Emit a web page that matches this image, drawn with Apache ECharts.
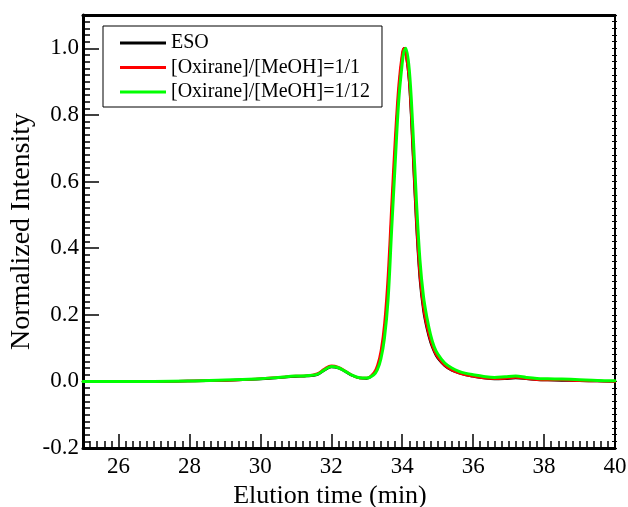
<!DOCTYPE html>
<html>
<head>
<meta charset="utf-8">
<script src="https://cdn.jsdelivr.net/npm/echarts@6/dist/echarts.min.js"></script>
<style>
html,body{margin:0;padding:0;background:#fff;}
#chart{width:628px;height:507px;}
</style>
</head>
<body>
<div id="chart"></div>
<script>
// ---- data ----
const seriesNames = ['ESO', '[Oxirane]/[MeOH]=1/1', '[Oxirane]/[MeOH]=1/12'];
const elutionTime = [25, 26, 27, 28, 29, 29.5, 30, 30.5, 31, 31.3, 31.6, 31.8, 32.0, 32.2, 32.4, 32.6, 32.8,
  33.0, 33.2, 33.3, 33.4, 33.5, 33.6, 33.7, 33.8, 33.9, 34.0, 34.05, 34.1, 34.2, 34.3, 34.4, 34.5, 34.6,
  34.7, 34.8, 34.9, 35.0, 35.2, 35.4, 35.6, 35.8, 36.0, 36.3, 36.6, 36.9, 37.2, 37.5, 37.8, 38.1, 38.5, 39, 39.5, 40];
const esoValues = [0.000, 0.000, 0.000, 0.001, 0.003, 0.005, 0.007, 0.011, 0.015, 0.016, 0.020, 0.033, 0.043, 0.040, 0.029, 0.017, 0.010,
  0.009, 0.022, 0.040, 0.080, 0.150, 0.280, 0.490, 0.690, 0.865, 0.975, 1.000, 0.990, 0.895, 0.690, 0.470, 0.305, 0.212,
  0.157, 0.117, 0.090, 0.070, 0.047, 0.033, 0.025, 0.019, 0.015, 0.010, 0.007, 0.008, 0.010, 0.008, 0.005, 0.004, 0.003, 0.002, 0.001, 0.000];
const ratio1Values = [0.000, 0.000, 0.000, 0.001, 0.003, 0.005, 0.008, 0.012, 0.016, 0.017, 0.023, 0.037, 0.047, 0.043, 0.031, 0.018, 0.010,
  0.010, 0.026, 0.048, 0.092, 0.175, 0.320, 0.530, 0.730, 0.890, 0.985, 1.000, 0.985, 0.900, 0.700, 0.480, 0.315, 0.220,
  0.163, 0.122, 0.093, 0.073, 0.048, 0.034, 0.025, 0.019, 0.015, 0.010, 0.008, 0.009, 0.012, 0.008, 0.005, 0.004, 0.004, 0.002, 0.001, 0.000];
const ratio12Values = [0.000, 0.000, 0.000, 0.001, 0.004, 0.006, 0.008, 0.012, 0.016, 0.017, 0.021, 0.034, 0.045, 0.041, 0.030, 0.018, 0.011,
  0.010, 0.020, 0.035, 0.068, 0.130, 0.243, 0.450, 0.650, 0.840, 0.955, 0.990, 1.000, 0.935, 0.760, 0.544, 0.365, 0.255,
  0.190, 0.140, 0.105, 0.083, 0.055, 0.040, 0.030, 0.024, 0.020, 0.015, 0.012, 0.014, 0.016, 0.012, 0.009, 0.008, 0.007, 0.005, 0.003, 0.002];
const xTickValues = [26, 28, 30, 32, 34, 36, 38, 40];
const yTickValues = [-0.2, 0.0, 0.2, 0.4, 0.6, 0.8, 1.0];
const xTitle = 'Elution time (min)';
const yTitle = 'Normalized Intensity';

// ---- chart ----
const FONT = 'Liberation Serif';
const pairs = vals => elutionTime.map((t, i) => [t, vals[i]]);
const colors = ['#000000', '#ff0000', '#00ff00'];
const widths = [2.5, 2.5, 3];
const allValues = [esoValues, ratio1Values, ratio12Values];

const chart = echarts.init(document.getElementById('chart'), null, {renderer: 'canvas'});
const noSplit = {show: false};
chart.setOption({
  animation: false,
  backgroundColor: '#fff',
  grid: {left: 83, right: 13, top: 15, bottom: 59, containLabel: false, outerBoundsMode: 'none'},
  legend: {
    orient: 'vertical', left: 103, top: 26,
    data: seriesNames,
    icon: 'rect', itemWidth: 46, itemHeight: 3, itemGap: 4.5,
    borderColor: '#000', borderWidth: 1, borderRadius: 0,
    padding: [7, 12, 5, 17],
    textStyle: {fontFamily: FONT, fontSize: 20, color: '#000', lineHeight: 20}
  },
  xAxis: [
    {
      type: 'value', min: 25, max: 40, position: 'bottom',
      axisLine: {show: true, onZero: false, lineStyle: {color: '#000', width: 3}},
      axisTick: {show: true, inside: true, length: 14, customValues: xTickValues, lineStyle: {color: '#000', width: 1.5}},
      axisLabel: {show: true, customValues: xTickValues, margin: 7, fontFamily: FONT, fontSize: 23, color: '#000'},
      splitLine: noSplit,
      name: xTitle, nameLocation: 'middle', nameGap: 30,
      nameTextStyle: {fontFamily: FONT, fontSize: 26, color: '#000', padding: [0, 38, 0, 0]}
    },
    {
      type: 'value', min: 25, max: 40, interval: 0.2, position: 'bottom',
      axisLine: {show: false, onZero: false},
      axisTick: {show: true, inside: true, length: 7, lineStyle: {color: '#000', width: 1.5}},
      axisLabel: {show: false}, splitLine: noSplit
    },
    {
      type: 'value', min: 25, max: 40, position: 'top',
      axisLine: {show: true, onZero: false, lineStyle: {color: '#000', width: 3}},
      axisTick: {show: false}, axisLabel: {show: false}, splitLine: noSplit
    }
  ],
  yAxis: [
    {
      type: 'value', min: -0.2, max: 1.1, position: 'left',
      axisLine: {show: true, onZero: false, lineStyle: {color: '#000', width: 3}},
      axisTick: {show: true, inside: true, length: 16, customValues: yTickValues, lineStyle: {color: '#000', width: 1.5}},
      axisLabel: {show: true, customValues: yTickValues, margin: 4, fontFamily: FONT, fontSize: 23, color: '#000',
        formatter: v => v.toFixed(1)},
      splitLine: noSplit,
      name: yTitle, nameLocation: 'middle', nameGap: 47, nameMoveOverlap: false,
      nameTextStyle: {fontFamily: FONT, fontSize: 28, color: '#000'}
    },
    {
      type: 'value', min: -0.2, max: 1.1, interval: 0.02, position: 'left',
      axisLine: {show: false, onZero: false},
      axisTick: {show: true, inside: true, length: 7, lineStyle: {color: '#000', width: 1.5}},
      axisLabel: {show: false}, splitLine: noSplit
    },
    {
      type: 'value', min: -0.2, max: 1.1, interval: 0.02, position: 'right',
      axisLine: {show: true, onZero: false, lineStyle: {color: '#000', width: 2}},
      axisTick: {show: true, inside: true, length: 3, lineStyle: {color: '#000', width: 1}},
      axisLabel: {show: false}, splitLine: noSplit
    },
    {
      type: 'value', min: -0.2, max: 1.1, interval: 0.02, position: 'right',
      axisLine: {show: false, onZero: false},
      axisTick: {show: true, inside: false, length: 2, lineStyle: {color: '#000', width: 1}},
      axisLabel: {show: false}, splitLine: noSplit
    }
  ],
  series: seriesNames.map((name, i) => ({
    name: name, type: 'line', xAxisIndex: 0, yAxisIndex: 0,
    data: pairs(allValues[i]),
    showSymbol: false, symbol: 'none',
    smooth: 0.35,
    lineStyle: {color: colors[i], width: widths[i], join: 'round', cap: 'round'},
    itemStyle: {color: colors[i]},
    z: 2 + i
  }))
});
</script>
</body>
</html>
